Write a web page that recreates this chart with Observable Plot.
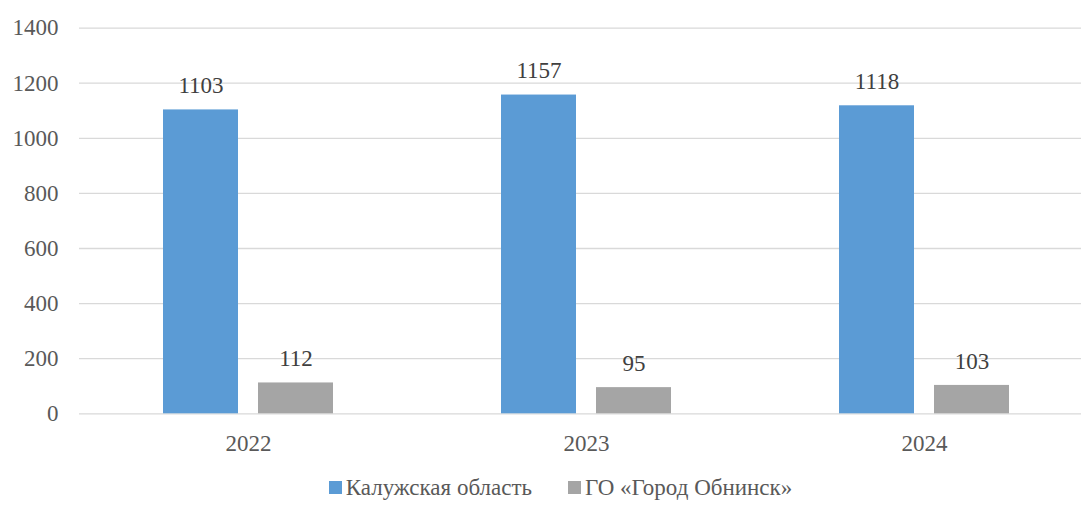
<!DOCTYPE html>
<html>
<head>
<meta charset="utf-8">
<script src="https://cdn.jsdelivr.net/npm/d3@7"></script>
<script src="https://cdn.jsdelivr.net/npm/@observablehq/plot@0.6"></script>
<style>
  html, body { margin: 0; padding: 0; background: #fff; }
  .serif { font-family: "Liberation Serif", "Times New Roman", Tinos, "DejaVu Serif", serif; }
</style>
</head>
<body class="serif">
<div id="chart" class="serif" style="width:1081px;height:505px;overflow:hidden;"></div>
<script>
const years = ["2022", "2023", "2024"];
const series = ["Калужская область", "ГО «Город Обнинск»"];
const kaluga = [1103, 1157, 1118];
const obninsk = [112, 95, 103];
const colors = ["#5B9BD5", "#A5A5A5"];
const yTicks = [0, 200, 400, 600, 800, 1000, 1200, 1400];
const FONT = "'Liberation Serif', 'Times New Roman', Tinos, 'DejaVu Serif', serif";

const rows = [];
years.forEach((yr, i) => {
  rows.push({year: yr, series: series[0], value: kaluga[i]});
  rows.push({year: yr, series: series[1], value: obninsk[i]});
});

const plot = Plot.plot({
  width: 1081,
  height: 470,
  marginLeft: 78,
  marginRight: -12,
  marginTop: 27.6,
  marginBottom: 56.7,
  style: {fontFamily: FONT, fontSize: "23px", color: "#595959", background: "#fff", overflow: "visible"},
  fx: {domain: years, padding: 0, label: null, tickSize: 0, tickPadding: 21},
  x: {domain: series, axis: null, paddingInner: 0.21, paddingOuter: 0.867},
  y: {domain: [0, 1400], ticks: yTicks, tickFormat: d => String(d), tickSize: 0, tickPadding: 21, label: null},
  color: {domain: series, range: colors},
  marks: [
    Plot.gridY(yTicks, {stroke: "#d9d9d9", strokeOpacity: 1, strokeWidth: 1.3}),
    Plot.barY(rows, {fx: "year", x: "series", y: "value", fill: "series"}),
    Plot.text(rows, {fx: "year", x: "series", y: "value", text: d => String(d.value), dy: -24, fill: "#404040", fontSize: 23, fontFamily: FONT})
  ]
});
document.getElementById("chart").appendChild(plot);

const legend = document.createElement("div");
legend.className = "serif";
legend.style.cssText = "display:flex;justify-content:center;align-items:center;font-size:23px;color:#595959;height:35px;margin-left:40px;";
series.forEach((s, i) => {
  const item = document.createElement("span");
  item.style.cssText = "display:flex;align-items:center;margin:0 18px;";
  const sw = document.createElement("span");
  sw.style.cssText = "width:13px;height:13px;display:inline-block;margin-right:4px;background:" + colors[i];
  item.appendChild(sw);
  item.appendChild(document.createTextNode(s));
  legend.appendChild(item);
});
document.getElementById("chart").appendChild(legend);
</script>
</body>
</html>
